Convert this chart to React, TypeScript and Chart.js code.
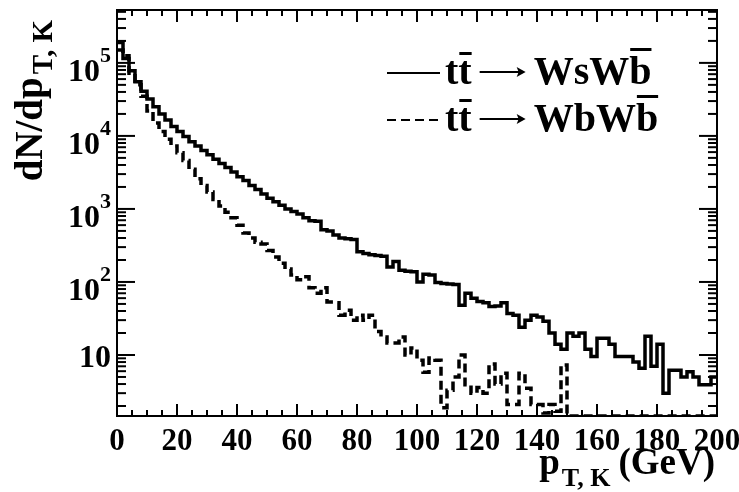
import React, { useEffect, useRef } from 'react';
import { Chart, registerables } from 'chart.js';

Chart.register(...registerables);

const X_MIN = 0;
const X_MAX = 200;
const BIN_WIDTH = 2;
const Y_MIN = 1.46;
const Y_MAX = 5.3e5;

// t tbar -> W s W bbar (solid)
const wsValues = [
  190000, 115000, 78000, 55000, 41000, 32000, 25000, 20000, 16500, 13500,
  11500, 9800, 8300, 7300, 6300, 5500, 4800, 4200, 3700, 3200,
  2750, 2450, 2100, 1850, 1600, 1400, 1250, 1120, 1000, 920,
  850, 760, 690, 680, 520, 500, 440, 400, 390, 380,
  260, 245, 235, 230, 225, 160, 190, 145, 140, 138,
  100, 128, 125, 98, 95, 94, 92, 48, 70, 60,
  54, 52, 46, 47, 52, 37, 35, 24, 30, 35,
  33, 29, 20, 14, 12, 20, 18, 20, 12, 9.5,
  17, 17, 14, 9.5, 9.5, 9.5, 8, 6.6, 18, 7,
  14, 3, 6.2, 6.2, 5, 5.9, 5, 3.9, 3.9, 5,
];

// t tbar -> W b W bbar (dashed)
const wbValues = [
  150000, 125000, 72000, 50000, 35000, 22000, 15000, 11500, 9000, 7300,
  5900, 4600, 3500, 2600, 2100, 1700, 1350, 1100, 900, 760,
  600, 470, 400, 350, 330, 270, 220, 180, 150, 125,
  107, 118, 83, 70, 83, 53, 52, 35, 41, 30,
  35, 30, 35, 21, 17.6, 14.6, 14.6, 17.6, 10, 12.5,
  8.5, 5.8, 9.1, 8.5, 1.9, 3.3, 5, 10, 3.9, 3.0,
  3.6, 3.0, 7.5, 4, 5.6, 2.1, 2.1, 5.6, 3.5, 2.1,
  2.1, 1.6, 2.1, 1.7, 7.3, 0, 0, 0, 0, 0,
  0, 0, 0, 0, 0, 0, 0, 0, 0, 0,
  0, 0, 0, 0, 0, 0, 0, 0, 0, 0,
];

const xTickLabels = ['0', '20', '40', '60', '80', '100', '120', '140', '160', '180', '200'];
const yDecadeExponents = [1, 2, 3, 4, 5];

function histPoints(values: number[]) {
  const pts: { x: number; y: number }[] = [];
  values.forEach((v, i) => {
    const lo = X_MIN + i * BIN_WIDTH;
    const y = v > 0 ? v : Y_MIN;
    pts.push({ x: lo, y });
    pts.push({ x: lo + BIN_WIDTH, y });
  });
  return pts;
}

const SERIF = '"Liberation Serif", "Times New Roman", serif';

const rootPlugin = {
  id: 'rootFrame',
  afterDatasetsDraw(chart: any) {
    const { ctx, chartArea: a, scales } = chart;
    const xs = scales.x;
    const ys = scales.y;
    ctx.save();
    ctx.strokeStyle = '#000';
    ctx.fillStyle = '#000';

    const seg = (x1: number, y1: number, x2: number, y2: number) => {
      ctx.beginPath();
      ctx.moveTo(x1, y1);
      ctx.lineTo(x2, y2);
      ctx.stroke();
    };

    // ticks
    ctx.lineWidth = 2;
    for (let v = X_MIN; v <= X_MAX; v += 5) {
      const px = xs.getPixelForValue(v);
      const len = v % 20 === 0 ? 12 : 6;
      seg(px, a.bottom, px, a.bottom - len);
      seg(px, a.top, px, a.top + len);
    }
    for (let e = 0; e <= 6; e++) {
      for (let m = 1; m <= 9; m++) {
        const v = m * Math.pow(10, e);
        if (v < Y_MIN || v > Y_MAX) continue;
        const py = ys.getPixelForValue(v);
        const len = m === 1 ? 18 : 9;
        seg(a.left, py, a.left + len, py);
        seg(a.right, py, a.right - len, py);
      }
    }

    // frame
    ctx.lineWidth = 2;
    ctx.strokeRect(a.left, a.top, a.right - a.left, a.bottom - a.top);

    // x labels
    const tickFont = `bold 31px ${SERIF}`;
    ctx.font = tickFont;
    ctx.textAlign = 'center';
    ctx.textBaseline = 'alphabetic';
    xTickLabels.forEach((lab) => {
      const v = Number(lab);
      ctx.fillText(lab, xs.getPixelForValue(v), a.bottom + 34);
    });

    // y labels
    ctx.textAlign = 'left';
    yDecadeExponents.forEach((e) => {
      const py = ys.getPixelForValue(Math.pow(10, e));
      const right = a.left - 6;
      ctx.font = `bold 32px ${SERIF}`;
      const wb = ctx.measureText('10').width;
      if (e === 1) {
        ctx.fillText('10', right - wb, py + 12);
      } else {
        ctx.font = `bold 22px ${SERIF}`;
        const sup = String(e);
        const ws = ctx.measureText(sup).width;
        ctx.fillText(sup, right - ws, py - 1);
        ctx.font = `bold 32px ${SERIF}`;
        ctx.fillText('10', right - ws - wb, py + 18);
      }
    });

    // x title: p_{T, K} (GeV)
    {
      const big = `bold 37px ${SERIF}`;
      const small = `bold 26px ${SERIF}`;
      ctx.font = big;
      const wGeV = ctx.measureText('(GeV)').width;
      const wp = ctx.measureText('p').width;
      ctx.font = small;
      const wsub = ctx.measureText('T, K').width;
      const end = a.right - 2;
      const base = a.bottom + 58;
      const gap = 8;
      let x = end - wGeV - gap - wsub - wp - 2;
      ctx.font = big;
      ctx.fillText('p', x, base);
      x += wp + 2;
      ctx.font = small;
      ctx.fillText('T, K', x, base + 12);
      x += wsub + gap;
      ctx.font = big;
      ctx.fillText('(GeV)', x, base);
    }

    // y title: dN/dp_{T, K}, rotated
    {
      const big = `bold 39px ${SERIF}`;
      const small = `bold 29px ${SERIF}`;
      ctx.save();
      ctx.translate(42, a.top + 10);
      ctx.rotate(-Math.PI / 2);
      ctx.font = big;
      const wmain = ctx.measureText('dN/dp').width;
      ctx.font = small;
      const wsub = ctx.measureText('T, K').width;
      let x = -(wmain + wsub + 3);
      ctx.font = big;
      ctx.fillText('dN/dp', x, 0);
      x += wmain + 3;
      ctx.font = small;
      ctx.fillText('T, K', x, 10);
      ctx.restore();
    }

    // legend
    const legendRows = [
      { label: 'WsW', dash: [] as number[], lineY: 73, base: 84 },
      { label: 'WbW', dash: [9, 5], lineY: 120, base: 131 },
    ];
    legendRows.forEach((row) => {
      ctx.lineWidth = 2;
      ctx.setLineDash(row.dash);
      seg(387, row.lineY, 440, row.lineY);
      ctx.setLineDash([]);
      const font = `bold 40px ${SERIF}`;
      ctx.font = font;
      let x = 445;
      const wt = ctx.measureText('t').width;
      ctx.fillText('t', x, row.base);
      x += wt;
      ctx.fillText('t', x, row.base);
      ctx.fillRect(x + 1, row.base - 32, wt - 1, 3);
      x += wt + 8;
      // arrow
      const ay = row.base - 12;
      ctx.lineWidth = 2;
      seg(x, ay, x + 44, ay);
      ctx.beginPath();
      ctx.moveTo(x + 46, ay);
      ctx.lineTo(x + 37, ay - 5);
      ctx.lineTo(x + 39, ay);
      ctx.lineTo(x + 37, ay + 5);
      ctx.closePath();
      ctx.fill();
      x += 54;
      ctx.fillText(row.label, x, row.base);
      x += ctx.measureText(row.label).width;
      const wbch = ctx.measureText('b').width;
      ctx.fillText('b', x, row.base);
      ctx.fillRect(x + 1, row.base - 36, wbch - 1, 3);
    });

    ctx.restore();
  },
};

export default function App() {
  const ref = useRef<HTMLCanvasElement | null>(null);
  useEffect(() => {
    if (!ref.current) return;
    const chart = new Chart(ref.current, {
      type: 'line',
      data: {
        datasets: [
          {
            label: 'tt → WsWb',
            data: histPoints(wsValues),
            borderColor: '#000',
            borderWidth: 3.5,
            pointRadius: 0,
            tension: 0,
            fill: false,
            borderJoinStyle: 'miter',
          },
          {
            label: 'tt → WbWb',
            data: histPoints(wbValues),
            borderColor: '#000',
            borderWidth: 3.5,
            borderDash: [9, 5],
            pointRadius: 0,
            tension: 0,
            fill: false,
            borderJoinStyle: 'miter',
          },
        ],
      },
      options: {
        responsive: false,
        devicePixelRatio: 1,
        animation: false,
        layout: { padding: { left: 117, right: 22, top: 10, bottom: 76 } },
        plugins: { legend: { display: false }, tooltip: { enabled: false } },
        scales: {
          x: { type: 'linear', min: X_MIN, max: X_MAX, display: false },
          y: { type: 'logarithmic', min: Y_MIN, max: Y_MAX, display: false },
        },
      },
      plugins: [rootPlugin],
    });
    return () => chart.destroy();
  }, []);
  return (
    <div style={{ position: 'fixed', left: 0, top: 0, width: 739, height: 492, background: '#fff' }}>
      <canvas ref={ref} width={739} height={492} style={{ width: 739, height: 492, display: 'block' }} />
    </div>
  );
}
